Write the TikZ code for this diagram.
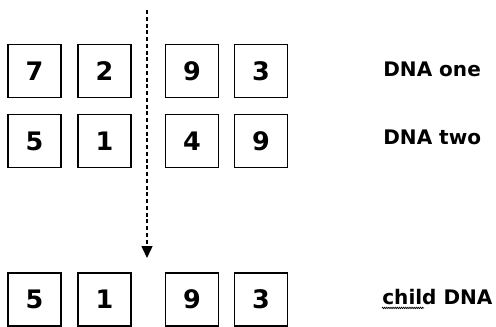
\documentclass[tikz,border=0pt]{standalone}
\usepackage{fontspec}
\setmainfont{DejaVu Sans}
\usetikzlibrary{arrows.meta,decorations.pathmorphing}

\tikzset{
  gene/.style={draw, line width=1.1pt, minimum size=1.06cm, inner sep=0pt, font=\bfseries\fontsize{14.5}{16}\selectfont},
  dnalabel/.style={anchor=west, inner sep=0pt, font=\bfseries\fontsize{11.4}{14}\selectfont}
}

\begin{document}
\begin{tikzpicture}[x=0.2mm,y=-0.2mm]
%%%%%%%%%%%%%%%%%%%%%%%%%%%%%%%%%%%%%%%%%%% frame
\useasboundingbox (0,0) rectangle (496,326);

%%%%%%%%%%%%%%%%%%%%%%%%%%%%%%%%%%%%%%%%%%% parent one
\node[gene] (a1) at (34.5,71){7};
\node[gene] (a2) at (104.5,71){2};
\node[gene] (a3) at (192,71){9};
\node[gene] (a4) at (261,71){3};
\node[dnalabel] (la) at (383,69){DNA one};

%%%%%%%%%%%%%%%%%%%%%%%%%%%%%%%%%%%%%%%%%%% parent two
\node[gene] (b1) at (34.5,141){5};
\node[gene] (b2) at (104.5,141){1};
\node[gene] (b3) at (192,141){4};
\node[gene] (b4) at (261,141){9};
\node[dnalabel] (lb) at (383,137){DNA two};

%%%%%%%%%%%%%%%%%%%%%%%%%%%%%%%%%%%%%%%%%%% child
\node[gene] (c1) at (34.5,299.5){5};
\node[gene] (c2) at (104.5,299.5){1};
\node[gene] (c3) at (192,299.5){9};
\node[gene] (c4) at (261,299.5){3};
\node[dnalabel] (lc) at (382,297){child DNA};
% spelling squiggle under "child"
\draw[line width=0.4pt, decorate, decoration={zigzag, amplitude=0.4pt, segment length=1.2pt}]
  ([yshift=-1.6pt]lc.south west) -- ++(42,0);

%%%%%%%%%%%%%%%%%%%%%%%%%%%%%%%%%%%%%%%%%%% crossover point
\coordinate (cut) at (147,10);
\coordinate (cutend) at (147,258);
\draw[line width=0.8pt, dash pattern=on 0.8mm off 0.55mm, -{Triangle[width=2.2mm,length=2.4mm]}] (cut) -- (cutend);

\end{tikzpicture}
\end{document}
